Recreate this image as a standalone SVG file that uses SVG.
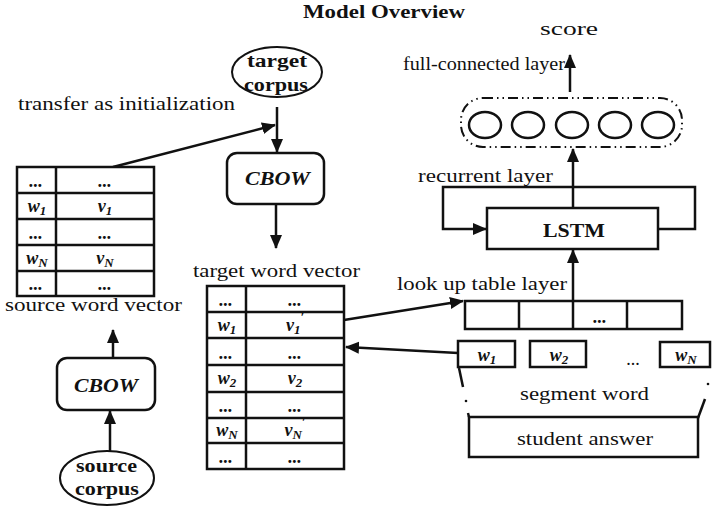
<svg xmlns="http://www.w3.org/2000/svg" width="712" height="508" viewBox="0 0 712 508">
<defs>
<marker id="ah" markerUnits="userSpaceOnUse" markerWidth="14" markerHeight="14" viewBox="0 0 14 14" refX="13" refY="7" orient="auto">
<path d="M0,1 L14,7 L0,13 Z" fill="#111"/>
</marker>
<style>
.t{font-family:"Liberation Serif","Times New Roman",serif;font-size:18px;fill:#111}
.b{font-weight:bold}
.bi{font-family:"Liberation Serif","Times New Roman",serif;font-weight:bold;font-style:italic;fill:#111}
.s{font-size:13px}
.box{fill:#fff;stroke:#111;stroke-width:2.5}
.ln{fill:none;stroke:#111;stroke-width:2.5}
.arr{fill:none;stroke:#111;stroke-width:2.5;marker-end:url(#ah)}
.dd{fill:none;stroke:#111;stroke-width:2;stroke-dasharray:10 4 1.5 4 1.5 4}
</style>
</defs>
<rect width="712" height="508" fill="#fff"/>

<text class="t b" x="303" y="18" textLength="162" lengthAdjust="spacingAndGlyphs">Model Overview</text>

<g id="connectors">
<line class="arr" x1="277" y1="107" x2="277" y2="152"/>
<line class="arr" x1="276" y1="204" x2="276" y2="248"/>
<line class="arr" x1="113" y1="167" x2="275" y2="125"/>
<line class="arr" x1="110" y1="453" x2="110" y2="411"/>
<line class="arr" x1="113" y1="358" x2="113" y2="330"/>
<line class="arr" x1="344" y1="320" x2="463" y2="301"/>
<line class="arr" x1="458" y1="353" x2="346" y2="347"/>
<line class="arr" x1="573" y1="301" x2="573" y2="250"/>
<polyline class="arr" points="658,229 695,229 695,187 443,187 443,229 486,229"/>
<line class="arr" x1="573" y1="208" x2="573" y2="149"/>
<line class="arr" x1="570" y1="92" x2="570" y2="55"/>
<line class="ln" x1="459" y1="368" x2="463" y2="387"/>
<circle cx="466" cy="401" r="1.3" fill="#111"/>
<line class="ln" x1="468" y1="413" x2="469" y2="417"/>
<circle cx="708" cy="384" r="1.3" fill="#111"/>
<line class="ln" x1="705" y1="399" x2="698" y2="418"/>
</g>

<g id="target-corpus">
<ellipse cx="277" cy="72" rx="45" ry="25" fill="#fff" stroke="#111" stroke-width="2"/>
<text class="t b" x="247" y="67" textLength="60" lengthAdjust="spacingAndGlyphs">target</text>
<text class="t b" x="244" y="91" textLength="64" lengthAdjust="spacingAndGlyphs">corpus</text>
</g>

<text class="t" x="18" y="110" textLength="217" lengthAdjust="spacingAndGlyphs">transfer as initialization</text>

<g id="target-cbow">
<rect class="box" x="227" y="153" width="97" height="51" rx="10"/>
<text class="bi" x="245" y="185" font-size="19" textLength="65" lengthAdjust="spacingAndGlyphs">CBOW</text>
</g>

<g id="source-table">
<rect class="box" x="17" y="167" width="137" height="129"/>
<g class="ln">
<line x1="56" y1="167" x2="56" y2="296"/>
<line x1="17" y1="193" x2="154" y2="193"/>
<line x1="17" y1="219" x2="154" y2="219"/>
<line x1="17" y1="245" x2="154" y2="245"/>
<line x1="17" y1="271" x2="154" y2="271"/>
</g>
<g class="bi" font-size="18" text-anchor="middle">
<text x="36" y="187">...</text><text x="105" y="187">...</text>
<text x="37" y="212">w<tspan class="s" dy="3">1</tspan></text>
<text x="105" y="212">v<tspan class="s" dy="3">1</tspan></text>
<text x="36" y="239">...</text><text x="105" y="239">...</text>
<text x="37" y="264">w<tspan class="s" dy="3">N</tspan></text>
<text x="105" y="264">v<tspan class="s" dy="3">N</tspan></text>
<text x="36" y="290">...</text><text x="105" y="290">...</text>
</g>
<text class="t" x="5" y="311" textLength="177" lengthAdjust="spacingAndGlyphs">source word vector</text>
</g>

<g id="source-cbow">
<rect class="box" x="57" y="358" width="98" height="52" rx="10"/>
<text class="bi" x="74" y="392" font-size="19" textLength="64" lengthAdjust="spacingAndGlyphs">CBOW</text>
</g>

<g id="source-corpus">
<ellipse cx="107" cy="478" rx="47" ry="27" fill="#fff" stroke="#111" stroke-width="2"/>
<text class="t b" x="76" y="472" textLength="61" lengthAdjust="spacingAndGlyphs">source</text>
<text class="t b" x="75" y="495" textLength="64" lengthAdjust="spacingAndGlyphs">corpus</text>
</g>

<g id="target-table">
<text class="t" x="193" y="277" textLength="167" lengthAdjust="spacingAndGlyphs">target word vector</text>
<rect class="box" x="207" y="286" width="137" height="183"/>
<g class="ln">
<line x1="246" y1="286" x2="246" y2="469"/>
<line x1="207" y1="312" x2="344" y2="312"/>
<line x1="207" y1="338" x2="344" y2="338"/>
<line x1="207" y1="365" x2="344" y2="365"/>
<line x1="207" y1="392" x2="344" y2="392"/>
<line x1="207" y1="418" x2="344" y2="418"/>
<line x1="207" y1="443" x2="344" y2="443"/>
</g>
<g class="bi" font-size="18" text-anchor="middle">
<text x="226" y="306">...</text><text x="295" y="306">...</text>
<text x="227" y="331">w<tspan class="s" dy="3">1</tspan></text>
<text x="295" y="331">v<tspan class="s" dy="3">1</tspan><tspan class="s" dy="-13">′</tspan></text>
<text x="226" y="359">...</text><text x="295" y="359">...</text>
<text x="227" y="384">w<tspan class="s" dy="3">2</tspan></text>
<text x="295" y="384">v<tspan class="s" dy="3">2</tspan></text>
<text x="226" y="412">...</text><text x="295" y="412">...</text>
<text x="227" y="436">w<tspan class="s" dy="3">N</tspan></text>
<text x="295" y="436">v<tspan class="s" dy="3">N</tspan><tspan class="s" dy="-13">′</tspan></text>
<text x="226" y="463">...</text><text x="295" y="463">...</text>
</g>
</g>

<g id="lookup-table">
<text class="t" x="397" y="290" textLength="170" lengthAdjust="spacingAndGlyphs">look up table layer</text>
<rect class="box" x="465" y="301" width="217" height="28"/>
<g class="ln">
<line x1="519" y1="301" x2="519" y2="329"/>
<line x1="573" y1="301" x2="573" y2="329"/>
<line x1="627" y1="301" x2="627" y2="329"/>
</g>
<text class="bi" x="600" y="323" font-size="18" text-anchor="middle">...</text>
</g>

<g id="lstm">
<text class="t" x="418" y="182" textLength="135" lengthAdjust="spacingAndGlyphs">recurrent layer</text>
<rect class="box" x="487" y="208" width="171" height="41"/>
<text class="t b" x="543" y="237" textLength="62" lengthAdjust="spacingAndGlyphs">LSTM</text>
</g>

<g id="fc-layer">
<rect class="dd" x="461" y="98" width="221" height="49" rx="22"/>
<g fill="none" stroke="#111" stroke-width="2.5">
<ellipse cx="485" cy="125" rx="16" ry="13"/>
<ellipse cx="528" cy="125" rx="16" ry="13"/>
<ellipse cx="572" cy="125" rx="16" ry="13"/>
<ellipse cx="615" cy="125" rx="16" ry="13"/>
<ellipse cx="658" cy="125" rx="16" ry="13"/>
</g>
<text class="t" x="403" y="70" textLength="162" lengthAdjust="spacingAndGlyphs">full-connected layer</text>
<text class="t" x="540" y="35" textLength="58" lengthAdjust="spacingAndGlyphs">score</text>
</g>

<g id="segment-words">
<rect class="box" x="458" y="341" width="57" height="26"/>
<text class="bi" x="487" y="361" font-size="18" text-anchor="middle">w<tspan class="s" dy="3">1</tspan></text>
<rect class="box" x="530" y="341" width="56" height="26"/>
<text class="bi" x="559" y="361" font-size="18" text-anchor="middle">w<tspan class="s" dy="3">2</tspan></text>
<text class="t" x="633" y="365" text-anchor="middle">...</text>
<rect class="box" x="660" y="342" width="50" height="25"/>
<text class="bi" x="686" y="361" font-size="18" text-anchor="middle">w<tspan class="s" dy="3">N</tspan></text>
<text class="t" x="520" y="400" textLength="129" lengthAdjust="spacingAndGlyphs">segment word</text>
</g>

<g id="student-answer">
<rect class="box" x="469" y="417" width="229" height="40"/>
<text class="t" x="517" y="445" textLength="136" lengthAdjust="spacingAndGlyphs">student answer</text>
</g>
</svg>
